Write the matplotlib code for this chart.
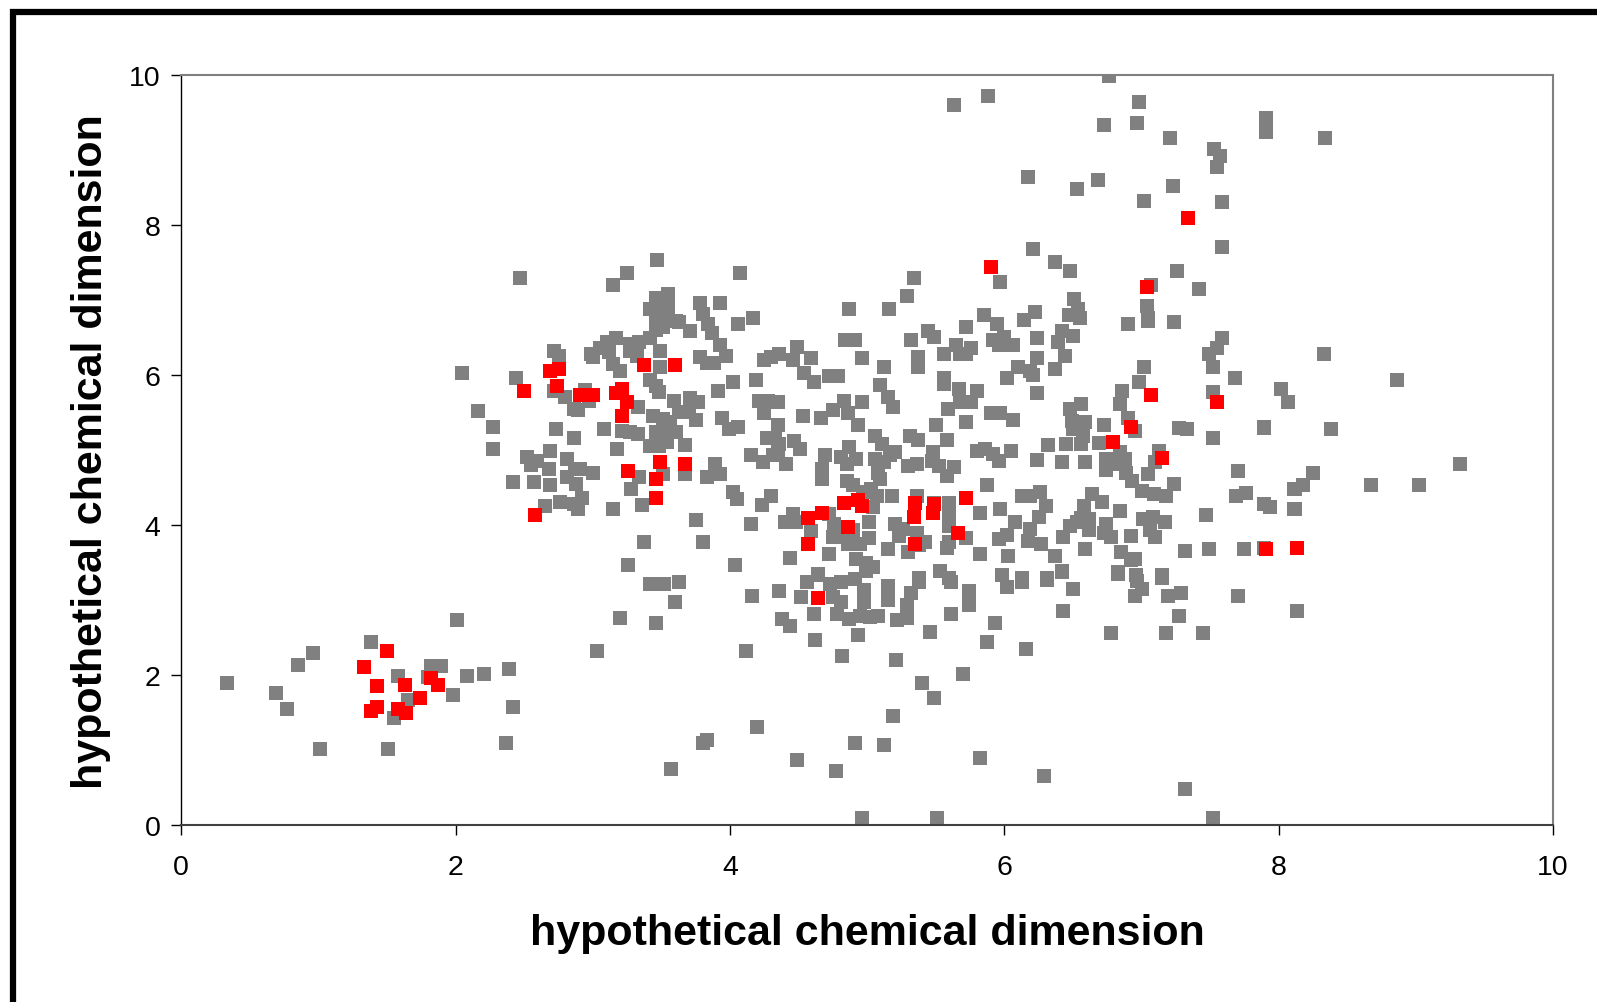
import matplotlib
matplotlib.use("Agg")
import matplotlib.pyplot as plt
from matplotlib.patches import Rectangle

plt.rcParams['font.family'] = ['Liberation Sans', 'DejaVu Sans']

# grey points (whole collection)
gray_x = [
    # low cluster
    0.33, 0.69, 0.77, 0.85, 0.96, 1.01, 1.38, 1.51, 1.58, 1.65, 1.55, 1.82, 1.89, 1.80,
    2.01, 1.98, 2.08, 2.21, 2.39, 2.42, 2.37,
    # upper left / centre
    3.47, 2.47, 3.25, 3.15, 4.07, 3.46, 3.55, 3.42, 3.49, 3.55, 3.46, 3.55, 3.61, 3.63,
    3.51, 3.46, 3.78, 3.80, 3.93, 3.84, 3.87, 3.71, 4.06, 4.17, 4.87, 5.16, 4.84, 4.91,
    4.96, 5.12, 5.09, 5.15, 5.19, 3.42, 3.34, 3.27, 3.17, 3.10, 3.05, 2.99, 3.00, 3.12,
    3.15, 3.20, 3.27, 3.32, 3.49, 3.49, 3.93, 3.97, 3.78, 3.88, 3.83, 2.72, 2.75, 2.05,
    2.44, 3.42, 3.46, 3.48, 4.02, 3.91, 4.19, 4.25, 4.30, 4.36, 4.49, 4.46, 4.59, 4.54,
    4.61, 4.72, 4.79, 2.72, 2.80, 2.94, 2.97, 2.86, 2.89, 3.33, 3.59, 3.71, 3.77, 4.21,
    4.28, 4.35, 4.25, 4.83, 4.96, 4.75, 4.86, 2.16, 2.27, 2.27, 2.73, 2.86, 3.08, 3.44,
    3.51, 3.56, 3.63, 3.70, 3.75, 3.21, 3.27, 3.33, 3.46, 3.54, 3.61, 3.42, 3.48, 3.54,
    3.67, 3.18, 3.94, 3.99, 4.06, 4.35, 4.27, 4.33, 4.36, 4.35, 4.31, 4.47, 4.51, 4.15,
    4.24, 4.41, 4.53, 4.66, 4.93, 5.06, 5.11, 4.69, 4.67, 4.67, 4.87, 4.81, 4.92, 4.85,
    5.06, 5.12, 5.17, 5.20, 5.08, 5.09, 4.85, 4.90, 5.03, 4.97, 5.07, 5.18, 5.04, 2.52,
    2.59, 2.55, 2.69, 2.81, 2.87, 2.91, 2.68, 2.81, 2.88, 3.00, 2.42, 2.57, 2.69, 2.92,
    2.86, 2.89, 2.76, 2.65, 3.15, 3.36, 3.34, 3.28, 3.51, 3.67, 3.89, 3.93, 3.83, 4.02,
    4.05, 4.23, 4.30, 3.75, 4.15, 3.37, 3.80, 3.26, 4.04, 4.46, 4.40, 4.48, 4.59, 4.72,
    4.76, 4.75, 4.81, 4.90, 4.86, 4.95, 5.01, 5.01, 5.15, 5.20, 5.23, 4.72, 4.44, 4.92,
    4.99, 5.04, 4.64,
    # centre right
    6.21, 7.59, 6.37, 6.48, 5.34, 5.29, 5.97, 7.26, 7.42, 7.07, 6.51, 6.54, 6.47, 6.55,
    5.85, 5.95, 6.22, 6.14, 5.72, 5.44, 5.49, 5.32, 5.92, 6.00, 5.96, 6.06, 6.24, 6.42,
    6.50, 6.39, 5.65, 5.76, 5.56, 5.68, 5.72, 5.37, 5.37, 6.24, 6.44, 6.90, 7.04, 7.05,
    7.05, 7.24, 7.59, 7.55, 7.49, 7.52, 7.68, 7.02, 6.98, 6.86, 6.10, 6.19, 6.21, 6.02,
    6.37, 5.56, 5.56, 5.67, 5.80, 6.24, 5.68, 5.76, 5.59, 5.90, 5.97, 6.06, 5.72, 5.50,
    6.84, 6.48, 6.56, 7.52, 8.02, 8.07, 6.49, 6.59, 6.50, 6.73, 6.90, 6.95, 7.27, 7.33,
    7.89, 7.52, 5.58, 5.31, 5.37, 5.48, 5.80, 5.86, 5.92, 5.96, 6.05, 6.32, 6.45, 6.56,
    6.57, 6.69, 6.24, 6.42, 6.59, 6.74, 6.74, 6.84, 6.88, 6.84, 6.89, 6.93, 7.05, 7.13,
    7.10, 5.30, 5.36, 5.47, 5.52, 5.58, 5.63, 7.70, 7.24, 7.00, 7.09, 7.18, 7.69, 7.76,
    7.89, 7.94, 8.11, 8.11, 5.87, 6.13, 6.19, 6.26, 6.30, 6.25, 5.97, 5.82, 6.08, 6.19,
    6.17, 6.02, 5.96, 6.27, 6.37, 6.42, 6.64, 6.58, 6.71, 6.56, 6.53, 6.48, 6.62, 6.62,
    6.43, 6.74, 6.73, 6.78, 6.84, 7.01, 7.08, 7.17, 7.06, 7.10, 6.92, 6.59, 6.85, 6.92,
    6.95, 7.47, 7.32, 7.49, 7.75, 7.89, 6.83, 6.96, 7.15, 5.82, 6.03, 5.53, 5.58, 5.60,
    5.60, 5.60, 5.60, 5.72, 5.42, 5.36, 5.26, 5.38, 5.30, 5.49, 5.36, 5.38, 5.60, 5.98,
    6.13, 6.31,
    # top
    6.76, 5.63, 5.88, 6.98, 6.73, 6.97, 7.21, 7.91, 7.91, 7.53, 7.57, 7.55, 6.17, 6.53,
    6.68, 7.23, 7.02, 7.59,
    # far right
    8.34, 8.33, 8.86, 7.89, 8.38, 9.32, 8.25, 8.18, 8.12, 8.67, 9.02, 8.12, 8.13,
    # lower centre
    3.42, 3.52, 3.63, 3.60, 3.20, 3.46, 3.03, 4.12, 4.16, 4.36, 4.56, 4.64, 4.73, 4.81,
    4.91, 4.99, 4.52, 4.75, 4.81, 4.98, 4.98, 5.15, 5.15, 4.61, 4.78, 4.38, 4.44, 4.87,
    4.95, 5.02, 5.08, 5.22, 4.62, 4.93, 4.82, 5.21, 5.19, 4.20, 3.80, 3.83, 4.91, 5.12,
    3.57, 4.49, 4.77, 4.96,
    # lower right
    5.38, 5.32, 5.29, 5.29, 5.61, 5.74, 5.74, 5.61, 5.46, 5.93, 5.87, 6.16, 6.02, 6.13,
    6.31, 6.42, 6.50, 6.43, 6.83, 6.97, 7.00, 6.95, 7.15, 7.19, 7.29, 7.70, 7.27, 6.78,
    7.18, 7.45, 5.40, 5.49, 5.70, 5.82, 6.29, 7.32, 5.51, 7.52,
]
gray_y = [
    1.90, 1.76, 1.55, 2.14, 2.29, 1.01, 2.44, 1.01, 1.99, 1.67, 1.43, 2.12, 2.12, 1.97,
    2.73, 1.73, 1.99, 2.02, 2.08, 1.58, 1.10,
    7.54, 7.30, 7.36, 7.21, 7.36, 7.03, 7.09, 6.88, 6.88, 6.91, 6.77, 6.77, 6.73, 6.71,
    6.64, 6.60, 6.97, 6.82, 6.97, 6.68, 6.57, 6.59, 6.68, 6.76, 6.88, 6.88, 6.47, 6.47,
    6.23, 6.11, 5.87, 5.71, 5.57, 6.50, 6.44, 6.42, 6.50, 6.44, 6.37, 6.28, 6.24, 6.31,
    6.15, 6.05, 6.33, 6.26, 6.32, 6.11, 6.40, 6.26, 6.25, 6.17, 6.17, 6.33, 6.26, 6.03,
    5.96, 5.93, 5.86, 5.77, 5.91, 5.79, 5.94, 6.20, 6.24, 6.28, 6.38, 6.20, 6.23, 6.03,
    5.91, 5.99, 5.99, 5.79, 5.71, 5.80, 5.66, 5.55, 5.53, 5.58, 5.66, 5.70, 5.64, 5.66,
    5.66, 5.64, 5.49, 5.66, 5.64, 5.53, 5.49, 5.52, 5.31, 5.02, 5.28, 5.16, 5.28, 5.46,
    5.42, 5.37, 5.51, 5.51, 5.40, 5.26, 5.24, 5.22, 5.24, 5.26, 5.24, 5.06, 5.06, 5.11,
    5.07, 5.02, 5.43, 5.28, 5.31, 5.34, 5.16, 5.16, 5.08, 5.00, 4.93, 5.12, 5.02, 4.93,
    4.84, 4.81, 5.46, 5.43, 5.33, 5.19, 5.08, 4.93, 4.75, 4.62, 5.04, 4.91, 4.88, 4.82,
    4.88, 4.84, 4.93, 4.97, 4.70, 4.62, 4.59, 4.53, 4.48, 4.44, 4.39, 4.39, 4.24, 4.91,
    4.86, 4.80, 4.99, 4.88, 4.75, 4.75, 4.75, 4.64, 4.55, 4.69, 4.57, 4.57, 4.54, 4.36,
    4.28, 4.22, 4.31, 4.25, 4.22, 4.27, 4.64, 4.48, 4.68, 4.68, 4.82, 4.68, 4.64, 4.44,
    4.35, 4.27, 4.39, 4.07, 4.01, 3.77, 3.77, 3.47, 3.47, 4.15, 4.04, 4.04, 3.92, 4.15,
    4.02, 3.84, 3.84, 3.93, 3.75, 3.75, 4.04, 3.83, 3.68, 4.02, 3.86, 3.62, 3.56, 3.55,
    3.50, 3.44, 3.35,
    7.68, 7.71, 7.51, 7.39, 7.30, 7.06, 7.24, 7.39, 7.15, 7.21, 7.02, 6.88, 6.80, 6.76,
    6.80, 6.68, 6.85, 6.74, 6.65, 6.59, 6.51, 6.47, 6.47, 6.51, 6.40, 6.41, 6.50, 6.59,
    6.53, 6.44, 6.41, 6.37, 6.29, 6.29, 6.28, 6.25, 6.11, 6.23, 6.26, 6.68, 6.93, 6.77,
    6.73, 6.71, 6.50, 6.37, 6.28, 6.11, 5.96, 6.11, 5.91, 5.79, 6.11, 6.06, 6.00, 5.96,
    6.08, 5.96, 5.88, 5.82, 5.79, 5.76, 5.64, 5.64, 5.55, 5.49, 5.49, 5.40, 5.37, 5.34,
    5.61, 5.55, 5.62, 5.77, 5.82, 5.64, 5.39, 5.37, 5.28, 5.34, 5.43, 5.26, 5.30, 5.28,
    5.30, 5.16, 5.14, 5.19, 5.13, 4.97, 4.99, 5.02, 4.95, 4.86, 4.99, 5.07, 5.08, 5.08,
    5.19, 5.10, 4.87, 4.84, 4.84, 4.88, 4.73, 4.97, 4.88, 4.82, 4.70, 4.59, 4.68, 4.99,
    4.84, 4.79, 4.82, 4.86, 4.79, 4.66, 4.77, 4.72, 4.55, 4.46, 4.42, 4.39, 4.39, 4.43,
    4.28, 4.24, 4.48, 4.22, 4.54, 4.39, 4.39, 4.44, 4.25, 4.11, 4.22, 4.16, 4.04, 3.95,
    3.79, 3.87, 3.82, 3.75, 3.59, 3.39, 4.41, 4.26, 4.31, 4.10, 4.04, 3.99, 4.08, 3.93,
    3.84, 4.02, 3.90, 3.84, 4.19, 4.08, 4.11, 4.04, 3.93, 3.84, 3.86, 3.68, 3.64, 3.53,
    3.55, 4.13, 3.65, 3.68, 3.68, 3.70, 3.37, 3.33, 3.33, 3.62, 3.59, 3.39, 3.70, 3.77,
    4.13, 4.30, 3.99, 3.83, 3.77, 3.90, 3.95, 3.73, 3.64, 4.30, 4.39, 3.30, 3.30, 3.33,
    3.30, 3.30,
    9.99, 9.61, 9.73, 9.64, 9.34, 9.37, 9.17, 9.43, 9.25, 9.02, 8.93, 8.78, 8.65, 8.49,
    8.61, 8.52, 8.33, 8.31,
    9.16, 6.29, 5.94, 5.31, 5.28, 4.81, 4.69, 4.54, 4.48, 4.54, 4.54, 4.22, 2.85,
    3.21, 3.21, 3.24, 2.97, 2.76, 2.70, 2.32, 2.32, 3.06, 3.12, 3.24, 3.33, 3.22, 3.24,
    3.28, 3.39, 3.04, 3.04, 2.97, 3.13, 2.97, 3.19, 3.00, 2.81, 2.82, 2.75, 2.65, 2.75,
    2.79, 2.77, 2.79, 2.73, 2.47, 2.53, 2.26, 2.20, 1.46, 1.31, 1.10, 1.13, 1.10, 1.07,
    0.75, 0.87, 0.72, 0.09,
    3.24, 3.10, 2.94, 2.76, 3.24, 3.12, 2.94, 2.82, 2.58, 2.70, 2.44, 2.35, 3.18, 3.24,
    3.27, 3.37, 3.15, 2.85, 3.35, 3.26, 3.15, 3.06, 3.30, 3.06, 3.09, 3.06, 2.79, 2.56,
    2.56, 2.56, 1.90, 1.69, 2.02, 0.89, 0.66, 0.48, 0.09, 0.09,
]

# red points (highlighted subset)
red_x = [
    1.50, 1.33, 1.43, 1.43, 1.38, 1.58, 1.64, 1.63, 1.74, 1.82, 1.87,
    2.69, 2.75, 2.50, 2.74, 2.91, 3.00, 3.17, 3.21, 3.25, 3.21, 3.37, 3.60, 3.49, 3.67,
    3.26, 3.46, 3.46, 2.58, 4.83, 4.93, 4.96, 4.67, 4.57, 4.86, 4.57,
    5.90, 7.04, 7.07, 7.55, 6.92, 6.79, 7.15, 5.72, 5.35, 5.49, 5.48, 5.34, 5.66, 5.35,
    7.91, 8.13, 7.34, 4.64,
]
red_y = [
    2.32, 2.11, 1.85, 1.58, 1.52, 1.55, 1.49, 1.87, 1.69, 1.96, 1.87,
    6.05, 6.08, 5.79, 5.85, 5.73, 5.73, 5.76, 5.82, 5.64, 5.46, 6.14, 6.14, 4.84, 4.81,
    4.72, 4.61, 4.36, 4.13, 4.30, 4.34, 4.25, 4.16, 4.10, 3.98, 3.75,
    7.45, 7.18, 5.73, 5.64, 5.31, 5.11, 4.90, 4.36, 4.30, 4.28, 4.16, 4.11, 3.89, 3.75,
    3.68, 3.70, 8.10, 3.03,
]

fig = plt.figure(figsize=(15.97, 10.03), dpi=100)
ax = fig.add_axes([0.1135, 0.1765, 0.859, 0.7473])

ax.scatter(gray_x, gray_y, s=100, marker='s', color='#808080', linewidths=0, zorder=2)
ax.scatter(red_x, red_y, s=100, marker='s', color='#ff0000', linewidths=0, zorder=3)

ax.set_xlim(0, 10)
ax.set_ylim(0, 10)
ax.set_xticks([0, 2, 4, 6, 8, 10])
ax.set_yticks([0, 2, 4, 6, 8, 10])

# excel style frame
ax.spines['left'].set_color('black')
ax.spines['left'].set_linewidth(1.0)
ax.spines['bottom'].set_color('#404040')
ax.spines['bottom'].set_linewidth(1.5)
ax.spines['top'].set_color('#808080')
ax.spines['top'].set_linewidth(1.5)
ax.spines['right'].set_color('#808080')
ax.spines['right'].set_linewidth(1.5)
for sp in ax.spines.values():
    sp.set_zorder(4)

ax.tick_params(axis='y', direction='out', length=7, width=1, pad=8, labelsize=20.5)
ax.tick_params(axis='x', direction='out', length=7, width=1, pad=14, labelsize=20.5)

ax.set_xlabel('hypothetical chemical dimension', fontsize=31, fontweight='bold')
ax.set_ylabel('hypothetical chemical dimension', fontsize=31, fontweight='bold')
ax.xaxis.set_label_coords(0.5, -0.118)
ax.yaxis.set_label_coords(-0.051, 0.5)

# thick outer border (only top and left edges visible)
fig.add_artist(Rectangle((12.5 / 1597, -0.2), 1.5, 0.2 + (1003 - 13) / 1003,
                         transform=fig.transFigure, fill=False,
                         edgecolor='black', linewidth=4.5))

fig.savefig('out.png', dpi=100)
